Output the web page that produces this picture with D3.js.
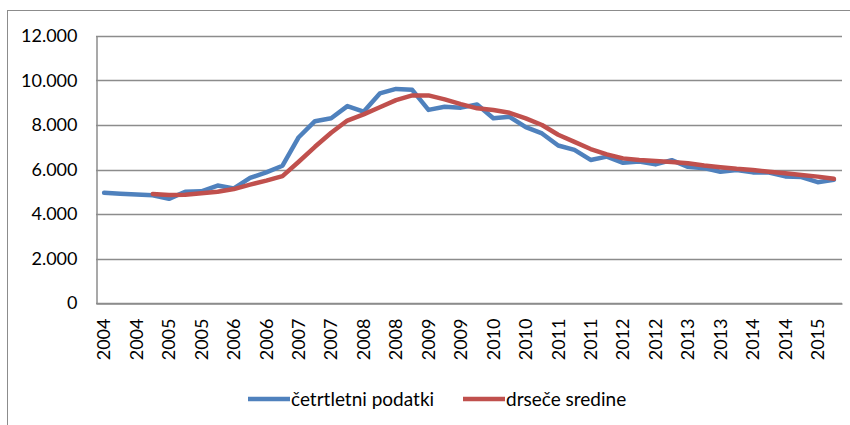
<!DOCTYPE html>
<html>
<head>
<meta charset="utf-8">
<script src="https://cdn.jsdelivr.net/npm/d3@7/dist/d3.min.js"></script>
<style>
  body { margin: 0; background: #fff; }
  text { font-family: Lato, "Liberation Sans", sans-serif; fill: #000; }
</style>
</head>
<body>
<svg id="chart" width="850" height="425"></svg>
<script>
const quarters = [
  "2004Q1", "2004Q2", "2004Q3", "2004Q4", "2005Q1", "2005Q2", "2005Q3", "2005Q4",
  "2006Q1", "2006Q2", "2006Q3", "2006Q4", "2007Q1", "2007Q2", "2007Q3", "2007Q4",
  "2008Q1", "2008Q2", "2008Q3", "2008Q4", "2009Q1", "2009Q2", "2009Q3", "2009Q4",
  "2010Q1", "2010Q2", "2010Q3", "2010Q4", "2011Q1", "2011Q2", "2011Q3", "2011Q4",
  "2012Q1", "2012Q2", "2012Q3", "2012Q4", "2013Q1", "2013Q2", "2013Q3", "2013Q4",
  "2014Q1", "2014Q2", "2014Q3", "2014Q4", "2015Q1", "2015Q2"
];

// četrtletni podatki
const quarterly = [
  4950, 4910, 4880, 4840, 4680, 5000, 5020, 5280,
  5150, 5620, 5870, 6170, 7450, 8170, 8300, 8850,
  8600, 9420, 9620, 9580, 8680, 8820, 8780, 8920,
  8300, 8370, 7900, 7620, 7080, 6880, 6430, 6580,
  6300, 6360, 6230, 6420, 6120, 6060, 5900, 5980,
  5870, 5860, 5690, 5660, 5430, 5540
];

// drseče sredine (first three quarters have no value)
const movingAvg = [
  null, null, null, 4900, 4850, 4870, 4930, 5000,
  5120, 5320, 5500, 5700, 6350, 7020, 7650, 8200,
  8480, 8800, 9120, 9330, 9330, 9150, 8940, 8750,
  8670, 8550, 8300, 8000, 7560, 7240, 6920, 6680,
  6500, 6430, 6380, 6340, 6280, 6180, 6100, 6030,
  5980, 5900, 5830, 5750, 5680, 5580
];

const yTicks = [0, 2000, 4000, 6000, 8000, 10000, 12000];
const seriesNames = ["četrtletni podatki", "drseče sredine"];
const seriesColors = ["#4f81bd", "#c0504d"];

const gridColor = "#8c8c8c";
const plot = { left: 96, right: 842, top: 36, bottom: 303 };

const svg = d3.select("#chart");

// chart area border (runs off the right and bottom edge)
svg.append("rect")
  .attr("x", 7.5).attr("y", 10.5)
  .attr("width", 860).attr("height", 430)
  .attr("fill", "none")
  .attr("stroke", gridColor)
  .attr("stroke-width", 1);

const x = d3.scaleBand()
  .domain(quarters)
  .range([plot.left, plot.right])
  .paddingInner(0).paddingOuter(0);

const y = d3.scaleLinear()
  .domain([0, 12000])
  .range([plot.bottom, plot.top]);

const slFormat = d3.formatLocale({ decimal: ",", thousands: ".", grouping: [3], currency: ["", ""] }).format(",d");

// horizontal gridlines
svg.append("g")
  .selectAll("line")
  .data(yTicks)
  .join("line")
  .attr("x1", plot.left).attr("x2", plot.right)
  .attr("y1", d => Math.round(y(d)) + 0.5)
  .attr("y2", d => Math.round(y(d)) + 0.5)
  .attr("stroke", gridColor)
  .attr("stroke-width", 1.5);

// y axis
const yAxis = svg.append("g")
  .attr("transform", `translate(${plot.left + 0.5},0)`)
  .call(d3.axisLeft(y).tickValues(yTicks).tickFormat(slFormat).tickSize(0).tickPadding(19));
yAxis.select(".domain").attr("stroke", gridColor).attr("stroke-width", 1.5);
yAxis.selectAll("text").style("font-size", "18px").attr("fill", "#000");

// x axis, label on every second quarter
const xAxis = svg.append("g")
  .attr("transform", `translate(0,${Math.round(plot.bottom) + 0.5})`)
  .call(d3.axisBottom(x)
    .tickValues(quarters.filter((d, i) => i % 2 === 0))
    .tickFormat(d => d.slice(0, 4))
    .tickSize(0));
xAxis.select(".domain").attr("stroke", gridColor).attr("stroke-width", 1.5);
xAxis.selectAll("text")
  .style("font-size", "18px")
  .attr("fill", "#000")
  .attr("text-anchor", "end")
  .attr("dy", "0.35em")
  .attr("transform", "translate(0,15) rotate(-90)")
  .attr("x", 0).attr("y", 0);

const line = d3.line()
  .defined(d => d != null)
  .x((d, i) => x(quarters[i]) + x.bandwidth() / 2)
  .y(d => y(d));

[quarterly, movingAvg].forEach((values, k) => {
  svg.append("path")
    .datum(values)
    .attr("fill", "none")
    .attr("stroke", seriesColors[k])
    .attr("stroke-width", 4.5)
    .attr("stroke-linejoin", "round")
    .attr("stroke-linecap", "round")
    .attr("d", line);
});

// legend
const legendX = [248, 463];
const legend = svg.append("g");
seriesNames.forEach((name, k) => {
  legend.append("line")
    .attr("x1", legendX[k]).attr("x2", legendX[k] + 42)
    .attr("y1", 399).attr("y2", 399)
    .attr("stroke", seriesColors[k])
    .attr("stroke-width", 4.5);
  legend.append("text")
    .attr("x", legendX[k] + 43)
    .attr("y", 399)
    .attr("dy", "0.35em")
    .style("font-size", "19px")
    .text(name);
});
</script>
</body>
</html>
